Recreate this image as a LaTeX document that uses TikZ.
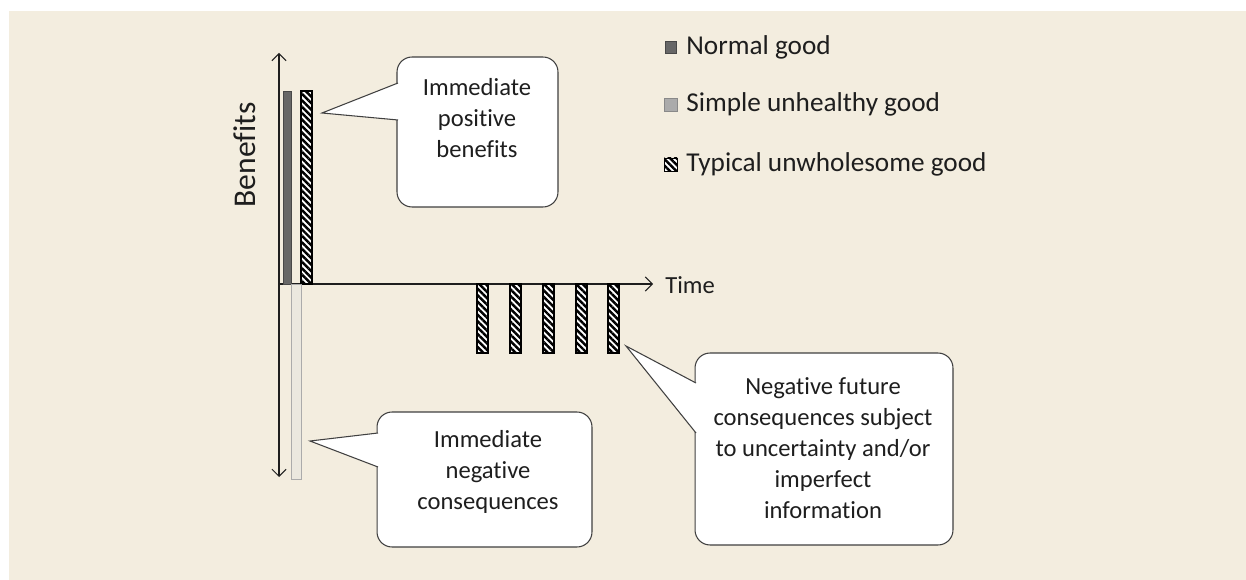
\documentclass[tikz,border=0pt]{standalone}
\usepackage{fontspec}
\setmainfont{Carlito}[Ligatures={NoCommon,NoContextual}]
\usetikzlibrary{arrows.meta,patterns.meta}
\definecolor{paper}{HTML}{F3EDDF}
\definecolor{normalgray}{HTML}{676767}
\definecolor{simplegray}{HTML}{ABABAB}
\definecolor{palegray}{HTML}{EBE8DF}
\definecolor{inkgray}{HTML}{1E1E1E}

\begin{document}
\begin{tikzpicture}[x=0.02cm,y=-0.02cm,>={Straight Barb[length=4pt,width=8pt]},
    text=inkgray,font=\fontsize{14}{17.6}\selectfont,
    axis/.style={line width=0.6pt,draw=inkgray},
    normal bar/.style={fill=normalgray,draw=normalgray!70!black,line width=0.4pt},
    simple bar/.style={fill=palegray,draw=simplegray,line width=0.4pt},
    hatch bar/.style={draw=black,line width=0.6pt,fill=white,
        postaction={pattern={Lines[angle=-45,distance=2.6pt,line width=1.4pt]}}},
    bubble/.style={draw=inkgray!85,fill=white,rounded corners=0.3cm,line width=0.6pt},
    bubble text/.style={align=center,inner sep=0pt},
    key/.style={font=\fontsize{15.5}{18}\selectfont,anchor=west,inner sep=0pt}]

    % background panel
    \useasboundingbox[fill=white] (0,0) rectangle (1246,580);
    \fill[paper] (9,11) rectangle (1246,580);

    % axes
    \coordinate (origin) at (279,284);
    \coordinate (top) at (279,53);
    \coordinate (bottom) at (279,477);
    \coordinate (right) at (653,284);
    \draw[axis,<->] (top) -- (bottom);
    \draw[axis,->] (origin) -- (right);
    \node[rotate=90,font=\fontsize{18}{20}\selectfont] (benefits) at (245,155) {Benefits};
    \node[anchor=west,inner sep=0pt] (time) at (665,285) {Time};

    % bars
    \draw[normal bar] (283,91) rectangle (291,284);
    \draw[hatch bar] (301,91) rectangle (312,284);
    \draw[simple bar] (291,284) rectangle (301,479);
    \foreach \x in {477,510,543,576,608}
        \draw[hatch bar] (\x,284) rectangle (\x+11,353);

    % legend
    \draw[normal bar] (665,41) rectangle (676,53);
    \node[key] (normalkey) at (686,47) {Normal good};
    \draw[fill=simplegray,draw=simplegray!80!black,line width=0.3pt] (664,98) rectangle (677,111);
    \node[key] (simplekey) at (686,104) {Simple unhealthy good};
    \draw[hatch bar,line width=0.5pt] (664,158) rectangle (677,171);
    \node[key] (typicalkey) at (686,164) {Typical unwholesome good};

    % callouts
    \node[bubble,minimum width=3.22cm,minimum height=3cm] (posbox) at (477.5,132) {};
    \node[bubble text] (postext) at (477,118) {Immediate\\positive\\benefits};
    \coordinate (postip) at (322,113);
    \fill[white] (postip) -- (398,83) -- (398,120) -- cycle;
    \draw[bubble,rounded corners=0pt] (398,83) -- (postip) -- (398,120);

    \node[bubble,minimum width=4.3cm,minimum height=2.7cm] (negbox) at (484.5,479.5) {};
    \node[bubble text] (negtext) at (488,472) {Immediate\\negative\\consequences};
    \coordinate (negtip) at (310,441);
    \fill[white] (negtip) -- (378,433) -- (378,467) -- cycle;
    \draw[bubble,rounded corners=0pt] (378,433) -- (negtip) -- (378,467);

    \node[bubble,minimum width=5.16cm,minimum height=3.84cm] (futbox) at (824,449) {};
    \node[bubble text] (futtext) at (823,448) {Negative future\\consequences subject\\to uncertainty and/or\\imperfect\\information};
    \coordinate (futtip) at (626,346);
    \fill[white] (futtip) -- (696,383) -- (696,433) -- cycle;
    \draw[bubble,rounded corners=0pt] (696,383) -- (futtip) -- (696,433);
\end{tikzpicture}
\end{document}
